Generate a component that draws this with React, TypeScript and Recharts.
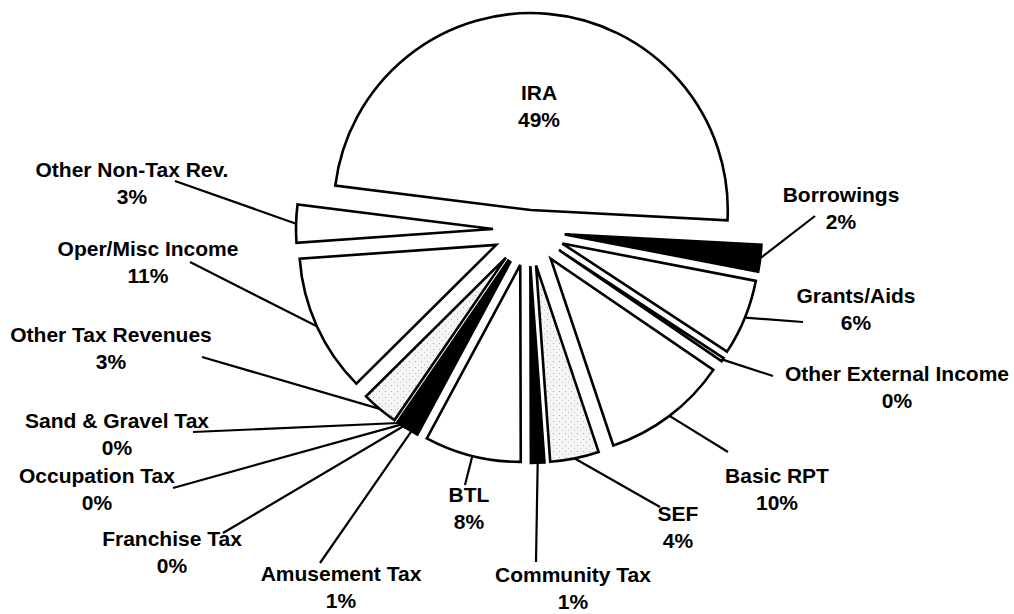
import React from 'react';
import { PieChart, Pie, Cell, Sector } from 'recharts';

// revenue sources, counter-clockwise from the right edge
const categories = [
  'IRA',
  'Other Non-Tax Rev.',
  'Oper/Misc Income',
  'Other Tax Revenues',
  'Sand & Gravel Tax',
  'Occupation Tax',
  'Franchise Tax',
  'Amusement Tax',
  'BTL',
  'Community Tax',
  'SEF',
  'Basic RPT',
  'Other External Income',
  'Grants/Aids',
  'Borrowings',
];
const shares = [48.8, 3.1, 11.3, 3.0, 0.2, 0.2, 0.2, 1.1, 7.9, 1.1, 4.0, 10.3, 0.3, 6.2, 2.2];
const fills = [
  '#fff', '#fff', '#fff', 'url(#stipple)', '#fff', '#fff', '#fff', '#000',
  '#fff', '#000', 'url(#stipple)', '#fff', '#fff', '#fff', '#000',
];

// hand-placed label spots (text centre / first baseline, leader end)
const labelSpots: Record<string, { x: number; y: number; lx?: number; ly?: number }> = {
  'IRA': { x: 539, y: 100 },
  'Other Non-Tax Rev.': { x: 132, y: 177, lx: 175, ly: 181 },
  'Oper/Misc Income': { x: 148, y: 256, lx: 190, ly: 262 },
  'Other Tax Revenues': { x: 111, y: 342, lx: 202, ly: 357 },
  'Sand & Gravel Tax': { x: 117, y: 428, lx: 193, ly: 432 },
  'Occupation Tax': { x: 97, y: 483, lx: 173, ly: 488 },
  'Franchise Tax': { x: 172, y: 546, lx: 223, ly: 533 },
  'Amusement Tax': { x: 341, y: 581, lx: 320, ly: 563 },
  'BTL': { x: 469, y: 502, lx: 465, ly: 485 },
  'Community Tax': { x: 573, y: 582, lx: 536, ly: 562 },
  'SEF': { x: 678, y: 521, lx: 660, ly: 507 },
  'Basic RPT': { x: 777, y: 483, lx: 728, ly: 452 },
  'Other External Income': { x: 897, y: 381, lx: 773, ly: 376 },
  'Grants/Aids': { x: 856, y: 303, lx: 803, ly: 322 },
  'Borrowings': { x: 841, y: 202, lx: 815, ly: 216 },
};

const PULL = 36;
const IRA_PULL = 20;
const RAD = Math.PI / 180;
const font = { fontFamily: '"Liberation Sans", Arial, sans-serif', fontWeight: 700, fontSize: 21 };

const pullOf = (name: string) => (name === 'IRA' ? IRA_PULL : PULL);

const ExplodedSlice = (props: any) => {
  const { cx, cy, midAngle, name } = props;
  const d = pullOf(name);
  return (
    <Sector
      {...props}
      cx={cx + d * Math.cos(-midAngle * RAD)}
      cy={cy + d * Math.sin(-midAngle * RAD)}
      stroke="#000"
      strokeWidth={2.6}
      strokeLinejoin="miter"
    />
  );
};

const renderLabel = (props: any) => {
  const { cx, cy, midAngle, outerRadius, percent, name } = props;
  const spot = labelSpots[name];
  if (!spot) return null;
  const pct = `${Math.round(percent * 100)}%`;
  const r = outerRadius + pullOf(name);
  const sx = cx + r * Math.cos(-midAngle * RAD);
  const sy = cy + r * Math.sin(-midAngle * RAD);
  return (
    <g>
      {spot.lx !== undefined && (
        <line x1={sx} y1={sy} x2={spot.lx} y2={spot.ly} stroke="#000" strokeWidth={2.2} />
      )}
      <text x={spot.x} y={spot.y} textAnchor="middle" fill="#000" {...font}>{name}</text>
      <text x={spot.x} y={spot.y + 27} textAnchor="middle" fill="#000" {...font}>{pct}</text>
    </g>
  );
};

const pieData = categories.map((name, i) => ({ name, value: shares[i] }));

export default function App() {
  return (
    <div style={{ position: 'absolute', left: 0, top: 0, width: 1014, height: 614, background: '#fff' }}>
      <PieChart width={1014} height={614}>
        <defs>
          <pattern id="stipple" width="6" height="6" patternUnits="userSpaceOnUse">
            <rect width="6" height="6" fill="#f5f5f5" />
            <circle cx="1.5" cy="1.5" r="0.6" fill="#a0a0a0" />
            <circle cx="4.5" cy="4.2" r="0.5" fill="#bbb" />
          </pattern>
        </defs>
        <Pie
          data={pieData}
          dataKey="value"
          nameKey="name"
          cx={524}
          cy={225}
          outerRadius={197}
          startAngle={-3}
          endAngle={357}
          stroke="#000"
          strokeWidth={2.6}
          shape={ExplodedSlice}
          activeShape={ExplodedSlice}
          inactiveShape={ExplodedSlice}
          label={renderLabel}
          labelLine={false}
          isAnimationActive={false}
        >
          {pieData.map((entry, i) => (
            <Cell key={entry.name} fill={fills[i]} />
          ))}
        </Pie>
      </PieChart>
    </div>
  );
}
